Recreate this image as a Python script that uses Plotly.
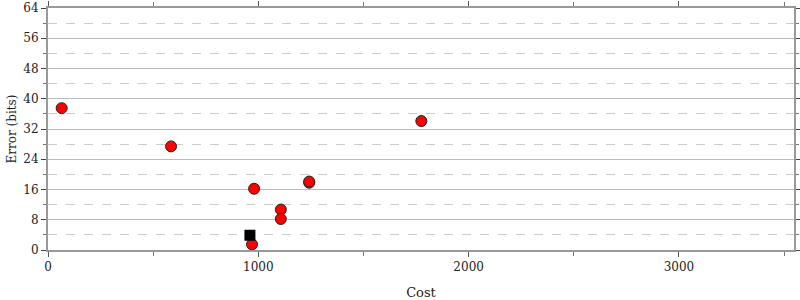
import plotly.graph_objects as go

cost = [65, 585, 980, 1107, 1107, 1242, 1242, 1775, 970]
error = [37.5, 27.4, 16.2, 10.7, 8.2, 17.8, 18.1, 34.1, 1.5]
best_cost = [960]
best_error = [3.9]
y_ticks = [0, 8, 16, 24, 32, 40, 48, 56, 64]
x_ticks = [0, 1000, 2000, 3000]

fig = go.Figure()
fig.add_trace(go.Scatter(x=cost, y=error, mode="markers",
                         marker=dict(color="red", size=11, symbol="circle",
                                     line=dict(color="#222", width=1)),
                         showlegend=False))
fig.add_trace(go.Scatter(x=best_cost, y=best_error, mode="markers",
                         marker=dict(color="black", size=11, symbol="square",
                                     line=dict(color="black", width=0)),
                         showlegend=False))

font = dict(family="DejaVu Serif", size=12, color="#222")
fig.update_layout(
    width=800, height=300,
    margin=dict(l=48, r=6, t=8, b=50),
    paper_bgcolor="white", plot_bgcolor="white",
    font=font,
    xaxis=dict(range=[0, 3547], tickvals=x_ticks, ticks="outside", ticklen=5,
               tickcolor="#555", showgrid=False, zeroline=False, automargin=False,
               showline=True, linecolor="#999", linewidth=2, mirror="allticks",
               tickfont=dict(size=12),
               minor=dict(dtick=500, tick0=0, ticks="outside", ticklen=4, tickcolor="#777", showgrid=False),
               title=dict(text="Cost", standoff=14, font=dict(size=13))),
    yaxis=dict(range=[0, 64], tickvals=y_ticks, ticks="outside", ticklen=5,
               tickcolor="#444", showgrid=True, gridcolor="#bbb", gridwidth=1,
               zeroline=False, showline=True, linecolor="#999", linewidth=2,
               mirror="allticks", automargin=False, tickfont=dict(size=12),
               minor=dict(dtick=4, tick0=0, ticks="outside", ticklen=3, tickcolor="#777",
                          showgrid=True, gridcolor="#ccc", griddash="dash", gridwidth=1),
               title=dict(text="Error (bits)", standoff=4, font=dict(size=12))),
)
fig.write_html("out.html")
